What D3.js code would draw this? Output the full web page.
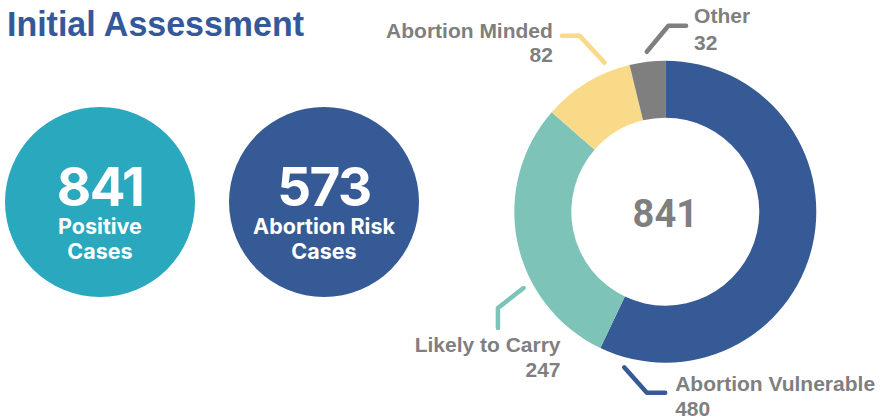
<html>
<head>
    <script src="https://d3js.org/d3.v7.min.js"></script>
    <style>
        body { margin: 0; background: #fff; }
    </style>
</head>
<body>
<div id="chart"></div>
<script>
    // data
    const categories = ["Abortion Vulnerable", "Likely to Carry", "Abortion Minded", "Other"];
    const values = [480, 247, 82, 32];
    const sliceColors = ["#365a96", "#7dc3b8", "#f9da89", "#7f7f7f"];

    const statNumbers = [841, 573];
    const statLines = [["Positive", "Cases"], ["Abortion Risk", "Cases"]];
    const statColors = ["#2aa8bd", "#365a96"];

    const total = d3.sum(values);

    // hand placed leader lines: angle on the ring, elbow and end offsets, text offsets
    const labelLayout = [
        { angle: 194.8, elbow: [22.7, 25.4], end: [41, 25.4], anchor: "start", tx: 10, ty: -2, vy: 25 },
        { angle: 241.7, elbow: [-25.6, 20], end: [-25.6, 40], anchor: "end", tx: 62.6, ty: 24, vy: 25.4 },
        { angle: 337.8, elbow: [-25, -27], end: [-42.6, -27], anchor: "end", tx: -9, ty: 2, vy: 24.3 },
        { angle: 353.4, elbow: [21.6, -26], end: [39.3, -26], anchor: "start", tx: 8, ty: -2.4, vy: 26.5 }
    ];

    const width = 883, height = 419;
    const svg = d3.select("#chart").append("svg")
        .attr("width", width)
        .attr("height", height);

    // title
    svg.append("text")
        .attr("x", 7)
        .attr("y", 36)
        .attr("textLength", 297)
        .attr("lengthAdjust", "spacingAndGlyphs")
        .style("font-family", "'Liberation Sans', Arial, sans-serif")
        .style("font-weight", "bold")
        .style("font-size", "35px")
        .style("fill", "#34589a")
        .text("Initial Assessment");

    // stat bubbles
    const bubbleX = d3.scalePoint().domain(d3.range(statNumbers.length)).range([100, 324]);
    const bubbles = svg.selectAll("g.bubble")
        .data(statNumbers.map((n, i) => ({ n: n, lines: statLines[i], color: statColors[i], i: i })))
        .join("g")
        .attr("class", "bubble")
        .attr("transform", d => "translate(" + bubbleX(d.i) + ",202)");

    bubbles.append("circle")
        .attr("r", 95)
        .attr("fill", d => d.color);

    bubbles.append("text")
        .attr("text-anchor", "middle")
        .attr("y", 4)
        .style("font-family", "Inter, 'Open Sans', sans-serif")
        .style("font-weight", 700)
        .style("font-size", "53px")
        .style("letter-spacing", "-1.5px")
        .style("fill", "#fff")
        .text(d => d.n);

    bubbles.each(function (d) {
        d3.select(this).selectAll("text.line")
            .data(d.lines)
            .join("text")
            .attr("class", "line")
            .attr("text-anchor", "middle")
            .attr("y", (t, j) => 32 + j * 24.5)
            .style("font-family", "Inter, 'Open Sans', sans-serif")
            .style("font-weight", 700)
            .style("font-size", "21.5px")
            .style("fill", "#fff")
            .text(t => t);
    });

    // donut
    const cx = 665.3, cy = 211.7;
    const outerR = 151, innerR = 94;
    const donut = svg.append("g").attr("transform", "translate(" + cx + "," + cy + ")");

    const pie = d3.pie().sort(null).value(d => d.value);
    const arc = d3.arc().innerRadius(innerR).outerRadius(outerR);
    const slices = pie(categories.map((c, i) => ({ name: c, value: values[i], color: sliceColors[i], i: i })));

    donut.selectAll("path.slice")
        .data(slices)
        .join("path")
        .attr("class", "slice")
        .attr("d", arc)
        .attr("fill", d => d.data.color);

    donut.append("text")
        .attr("text-anchor", "middle")
        .attr("y", 15)
        .style("font-family", "Roboto, sans-serif")
        .style("font-weight", 700)
        .style("font-size", "38px")
        .style("fill", "#7f7f7f")
        .text(total);

    // leader lines and labels
    const leaderR = 161;
    const labels = donut.selectAll("g.label")
        .data(slices)
        .join("g")
        .attr("class", "label");

    labels.each(function (d) {
        const L = labelLayout[d.data.i];
        const a = L.angle * Math.PI / 180;
        const sx = leaderR * Math.sin(a), sy = -leaderR * Math.cos(a);
        const pts = [[sx, sy], [sx + L.elbow[0], sy + L.elbow[1]], [sx + L.end[0], sy + L.end[1]]];
        const g = d3.select(this);
        g.append("path")
            .attr("d", d3.line()(pts))
            .attr("fill", "none")
            .attr("stroke", d.data.color)
            .attr("stroke-width", 4.5)
            .attr("stroke-linecap", "round")
            .attr("stroke-linejoin", "round");
        const ex = pts[2][0], ey = pts[2][1];
        const txt = g.append("text")
            .attr("text-anchor", L.anchor)
            .style("font-family", "'Liberation Sans', Arial, sans-serif")
            .style("font-weight", "bold")
            .style("font-size", "21px")
            .style("fill", "#7f7f7f");
        txt.append("tspan")
            .attr("x", ex + L.tx)
            .attr("y", ey + L.ty)
            .text(d.data.name);
        txt.append("tspan")
            .attr("x", ex + L.tx)
            .attr("y", ey + L.ty + L.vy)
            .text(d.data.value);
    });
</script>
</body>
</html>
